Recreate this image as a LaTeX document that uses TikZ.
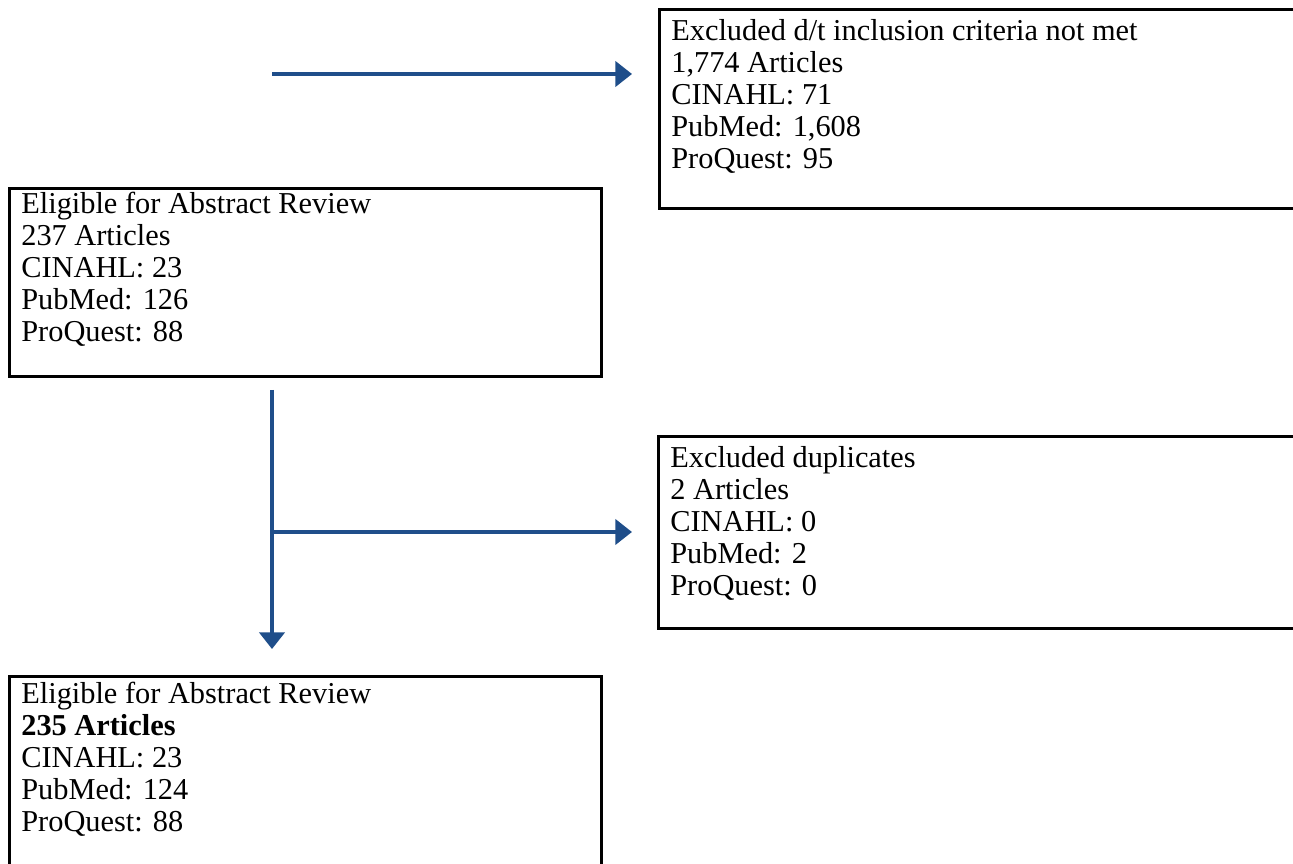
\documentclass[tikz,border=0pt]{standalone}
\usepackage{fontspec}
\setmainfont{Liberation Serif}
\usepackage{xcolor}
\usetikzlibrary{arrows.meta}
\definecolor{arrow-blue}{RGB}{31,78,138}
\tikzset{
    flow-box/.style = {draw=black, line width=1.2pt, rectangle, anchor=north west, inner xsep=5pt, inner ysep=3pt, font=\fontsize{12.75pt}{13.4pt}\selectfont},
    flow-arrow/.style = {draw=arrow-blue, line width=1.7pt, -{Triangle[length=7pt,width=10.5pt]}},
}

\begin{document}
\begin{tikzpicture}[x=0.42pt, y=-0.42pt]
\useasboundingbox (0,0) rectangle (1293,864);
\clip (0,0) rectangle (1293,864);

\node [flow-box, inner ysep=4.3pt] (excluded) at (658,8) {\begin{minipage}[t][75pt][t]{272pt}
    Excluded d/t inclusion criteria not met\\
    1,774 Articles\\
    CINAHL: 71\\
    PubMed: 1,608\\
    ProQuest: 95
\end{minipage}};

\node [flow-box, inner ysep=1.7pt] (eligible) at (8,187) {\begin{minipage}[t][75.6pt][t]{238.6pt}
    Eligible for Abstract Review\\
    237 Articles\\
    CINAHL: 23\\
    PubMed: 126\\
    ProQuest: 88
\end{minipage}};

\node [flow-box, inner ysep=4.3pt] (duplicates) at (657,435) {\begin{minipage}[t][72pt][t]{272pt}
    Excluded duplicates\\
    2 Articles\\
    CINAHL: 0\\
    PubMed: 2\\
    ProQuest: 0
\end{minipage}};

\node [flow-box, inner ysep=2.6pt] (final) at (8,675) {\begin{minipage}[t][78.8pt][t]{238.6pt}
    Eligible for Abstract Review\\
    \textbf{235 Articles}\\
    CINAHL: 23\\
    PubMed: 124\\
    ProQuest: 88
\end{minipage}};

\coordinate (top-start) at (272,74);
\coordinate (split) at (272,532);

\draw [flow-arrow, shorten >=10.9pt] (top-start) -- (top-start -| excluded.west);
\draw [flow-arrow, shorten <=5pt, shorten >=10.9pt] (split |- eligible.south) -- (split |- final.north);
\draw [flow-arrow, shorten >=10.5pt] (split) -- (split -| duplicates.west);
\end{tikzpicture}
\end{document}
